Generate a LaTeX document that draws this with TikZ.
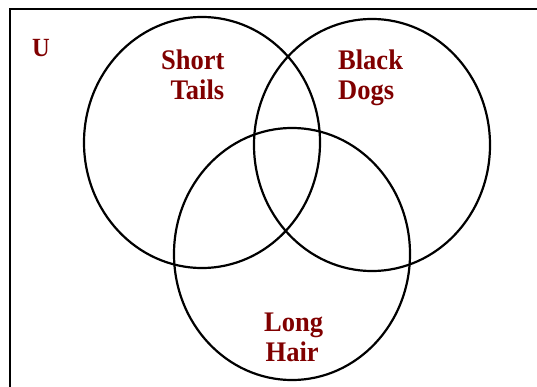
\documentclass[tikz,border=0pt]{standalone}
\usepackage{fontspec}
\setmainfont{Liberation Serif}
\definecolor{labelred}{RGB}{128,0,0}
\tikzset{
  setline/.style={line width=2.2pt, black},
  framestyle/.style={line width=2.6pt, black},
  lbl/.style={inner sep=0pt, anchor=base west, text=labelred,
    font=\fontsize{26.5}{30}\selectfont\bfseries, yscale=1.07, transform shape},
  ulbl/.style={lbl, font=\fontsize{24.5}{28}\selectfont\bfseries}
}
\begin{document}
\begin{tikzpicture}[x=1pt,y=1pt]
  \useasboundingbox (0,0) rectangle (537,386);
  \clip (0,0) rectangle (537,386);
  % universe frame (extends beyond right and bottom edges)
  \draw[framestyle] (10,-20) -- (10,377) -- (560,377);
  % sets
  \draw[setline] (202,243.5) ellipse [x radius=118, y radius=125.5];
  \draw[setline] (372,241) ellipse [x radius=118, y radius=126];
  \draw[setline] (292,132) ellipse [x radius=118, y radius=126];
  % labels
  \node[ulbl] (u) at (32,329) {U};
  \node[lbl] (short) at (161,316) {Short};
  \node[lbl] (tails) at (170.5,286) {Tails};
  \node[lbl] (black) at (338,316) {Black};
  \node[lbl] (dogs) at (338,286) {Dogs};
  \node[lbl] (long) at (264,55) {Long};
  \node[lbl] (hair) at (265.5,25) {Hair};
\end{tikzpicture}
\end{document}
